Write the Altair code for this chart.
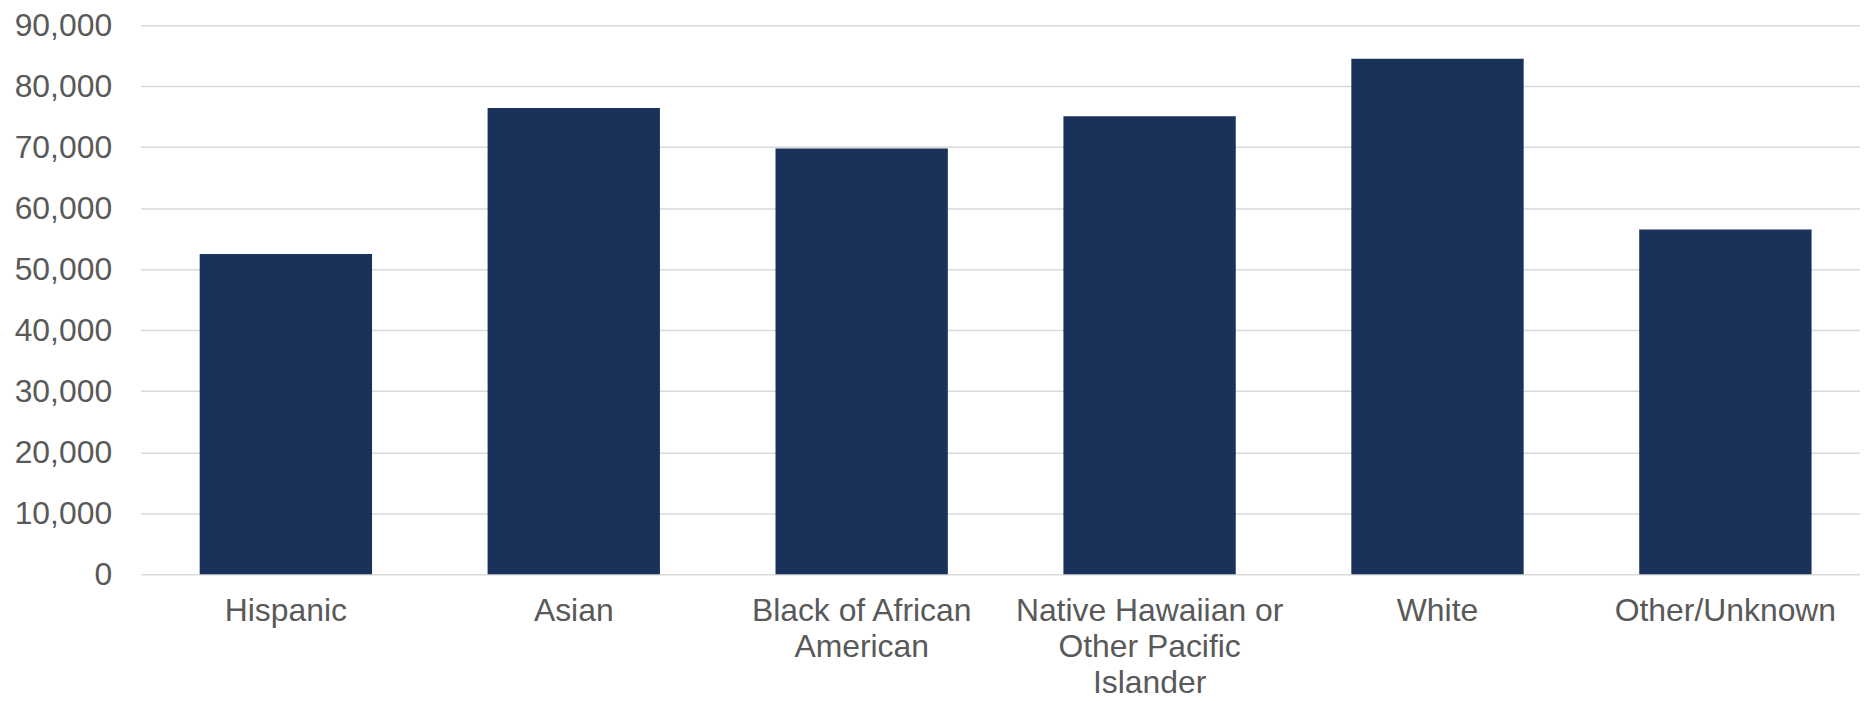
import altair as alt
import pandas as pd

categories = ["Hispanic", "Asian", "Black of African American",
              "Native Hawaiian or Other Pacific Islander", "White", "Other/Unknown"]
values = [52500, 76450, 69800, 75100, 84500, 56500]
label_lines = [["Hispanic"], ["Asian"], ["Black of African", "American"],
               ["Native Hawaiian or", "Other Pacific", "Islander"], ["White"], ["Other/Unknown"]]
y_ticks = [0, 10000, 20000, 30000, 40000, 50000, 60000, 70000, 80000, 90000]

df = pd.DataFrame({"category": categories, "value": values})

expr = "datum.label"
for cat, lines in reversed(list(zip(categories, label_lines))):
    arr = "[" + ", ".join("'" + l + "'" for l in lines) + "]"
    expr = f"datum.label == '{cat}' ? {arr} : ({expr})"

FONT = "Liberation Sans"

chart = alt.Chart(df).mark_bar(color="#1a3159").encode(
    x=alt.X("category:N", sort=categories, title=None,
            scale=alt.Scale(paddingInner=0.4014, paddingOuter=0.1869, align=0.55),
            axis=alt.Axis(labelAngle=0, labelExpr=expr, ticks=False, domain=False,
                          labelFont=FONT, labelFontSize=32, labelColor="#595959",
                          labelLineHeight=36, labelPadding=22, labelBaseline="top",
                          labelLimit=0)),
    y=alt.Y("value:Q", title=None,
            scale=alt.Scale(domain=[0, 90000], nice=False),
            axis=alt.Axis(values=y_ticks, format=",d", ticks=False, domain=False,
                          labelFont=FONT, labelFontSize=32, labelColor="#595959",
                          labelPadding=29, gridColor="#d9d9d9", gridWidth=1.5,
                          labelFlush=False)),
).properties(
    width=1726, height=551,
    autosize=alt.AutoSizeParams(type="none"),
    padding={"left": 133, "top": 16, "right": 0, "bottom": 128},
).configure_view(stroke=None)

chart.save("out.html", embed_options={"renderer": "svg", "actions": False})
